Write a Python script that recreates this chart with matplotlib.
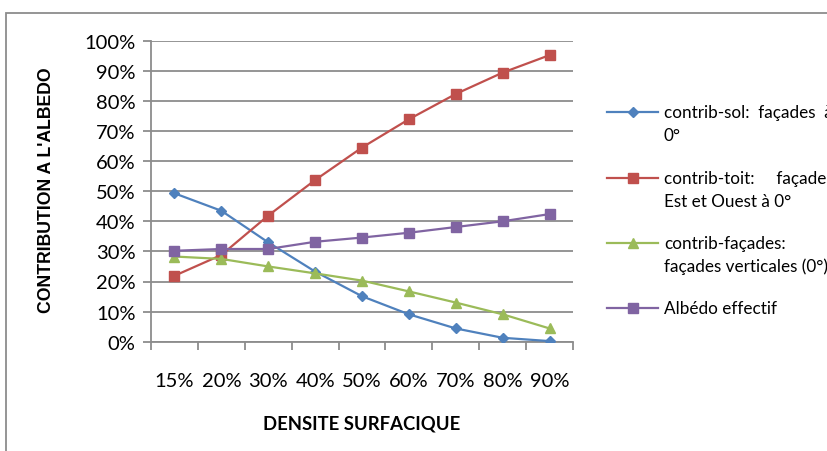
import matplotlib
matplotlib.use("Agg")
import matplotlib.pyplot as plt
from matplotlib.lines import Line2D
from matplotlib.patches import Rectangle
from matplotlib.ticker import PercentFormatter

# data
densite = ["15%", "20%", "30%", "40%", "50%", "60%", "70%", "80%", "90%"]
contrib_sol = [0.493, 0.435, 0.330, 0.233, 0.151, 0.091, 0.044, 0.013, 0.002]
contrib_toit = [0.219, 0.288, 0.419, 0.537, 0.645, 0.739, 0.823, 0.894, 0.952]
contrib_facades = [0.283, 0.275, 0.250, 0.227, 0.203, 0.167, 0.130, 0.091, 0.044]
albedo_eff = [0.302, 0.308, 0.308, 0.332, 0.346, 0.362, 0.381, 0.400, 0.424]

labels = ["contrib-sol:  façades  à\n0°",
          "contrib-toit:     façades\nEst et Ouest à 0°",
          "contrib-façades:\nfaçades verticales (0°)",
          "Albédo effectif"]
colors = ["#4F81BD", "#C0504D", "#9BBB59", "#8064A2"]
markers = ["D", "s", "^", "s"]
msizes = [5.5, 7, 7, 7]
series = [contrib_sol, contrib_toit, contrib_facades, albedo_eff]

W, H = 827, 452
fig = plt.figure(figsize=(W / 100, H / 100), dpi=100)
ax = fig.add_axes([151 / W, 1 - 342.7 / H, (573 - 151) / W, (342.7 - 41.7) / H])

grid_c = "#8C8C8C"
x = list(range(len(densite)))
for vals, c, m, ms in zip(series, colors, markers, msizes):
    ax.plot(x, vals, color=c, lw=1.6, marker=m, ms=ms, mfc=c, mec=c, zorder=3)

ax.set_xlim(-0.5, len(densite) - 0.5)
ax.set_ylim(0, 1)
ax.set_yticks([i / 10 for i in range(11)])
ax.yaxis.set_major_formatter(PercentFormatter(1.0, decimals=0))
ax.set_xticks([i - 0.5 for i in range(len(densite) + 1)], minor=False)
ax.set_xticklabels([])
ax.set_xticks(x, minor=True)
ax.set_xticklabels(densite, minor=True)
ax.tick_params(axis="x", which="minor", length=0, pad=22, labelsize=14.5)
ax.tick_params(axis="x", which="major", length=6, width=1.3, color=grid_c)
ax.tick_params(axis="y", length=6, width=1.3, color=grid_c, labelsize=14.5, pad=5)
for lab in ax.get_xticklabels(minor=True) + ax.get_yticklabels():
    lab.set_fontfamily("Lato")

ax.grid(axis="y", color=grid_c, lw=1.3)
ax.set_axisbelow(True)
for s in ["top", "right"]:
    ax.spines[s].set_visible(False)
ax.spines["left"].set_color(grid_c)
ax.spines["left"].set_linewidth(1.3)
ax.spines["bottom"].set_color(grid_c)
ax.spines["bottom"].set_linewidth(1.3)

fig.text(362 / W, 1 - 424 / H, "DENSITE SURFACIQUE", ha="center", va="center",
         fontsize=13.3, fontweight="bold", family="Lato")
fig.text(47 / W, 1 - 190 / H, "CONTRIBUTION A L'ALBEDO", ha="center", va="center",
         rotation=90, fontsize=12.7, fontweight="bold", family="Liberation Sans")

# outer chart frame
fig.add_artist(Rectangle((6 / W, -0.1), 1.2, 1 - 14 / H + 0.1, transform=fig.transFigure,
                         fill=False, ec="#8C8C8C", lw=1.3))

# legend drawn by hand, the reference is cut on the right
ys = [113, 179, 244, 309]
for lab, c, m, ms, y in zip(labels, colors, markers, msizes, ys):
    yf = 1 - y / H
    fig.add_artist(Line2D([607 / W, 658 / W], [yf, yf], transform=fig.transFigure,
                          color=c, lw=1.6))
    fig.add_artist(Line2D([632.5 / W], [yf], transform=fig.transFigure, color=c,
                          marker=m, ms=ms, mfc=c, mec=c, lw=0))
    for k, line in enumerate(lab.split("\n")):
        fig.text(664 / W, 1 - (y + 23 * k) / H, line, ha="left", va="center",
                 fontsize=12.3, family="Lato")

fig.savefig("out.png", dpi=100)
